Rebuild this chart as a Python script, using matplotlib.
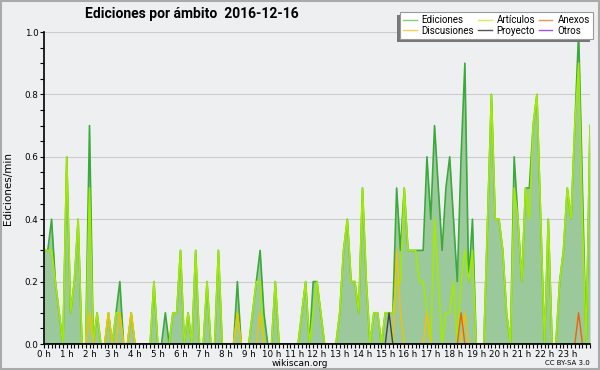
import matplotlib
matplotlib.use("Agg")
import matplotlib.pyplot as plt
import numpy as np
from matplotlib.lines import Line2D
from matplotlib.patches import Rectangle
from matplotlib.transforms import IdentityTransform

# edits per minute, one value every 10 minutes (0:00 .. 24:00)
ediciones = [
    0.3, 0.3, 0.4, 0.2, 0.1, 0.0,   # 0 h
    0.6, 0.1, 0.2, 0.4, 0.0, 0.0,   # 1 h
    0.7, 0.0, 0.1, 0.0, 0.0, 0.1,   # 2 h
    0.0, 0.1, 0.2, 0.0, 0.0, 0.1,   # 3 h
    0.0, 0.0, 0.0, 0.0, 0.0, 0.2,   # 4 h
    0.0, 0.0, 0.1, 0.0, 0.1, 0.1,   # 5 h
    0.3, 0.0, 0.1, 0.0, 0.3, 0.0,   # 6 h
    0.0, 0.2, 0.0, 0.0, 0.3, 0.0,   # 7 h
    0.0, 0.0, 0.0, 0.2, 0.0, 0.0,   # 8 h
    0.0, 0.1, 0.2, 0.3, 0.1, 0.0,   # 9 h
    0.0, 0.2, 0.0, 0.0, 0.0, 0.0,   # 10 h
    0.0, 0.0, 0.1, 0.2, 0.0, 0.2,   # 11 h
    0.2, 0.1, 0.0, 0.0, 0.0, 0.0,   # 12 h
    0.1, 0.3, 0.4, 0.2, 0.2, 0.1,   # 13 h
    0.5, 0.2, 0.0, 0.1, 0.1, 0.0,   # 14 h
    0.1, 0.1, 0.1, 0.5, 0.3, 0.5,   # 15 h
    0.3, 0.3, 0.3, 0.3, 0.3, 0.6,   # 16 h
    0.4, 0.7, 0.5, 0.3, 0.5, 0.6,   # 17 h
    0.4, 0.2, 0.6, 0.9, 0.2, 0.4,   # 18 h
    0.0, 0.0, 0.0, 0.4, 0.8, 0.4,   # 19 h
    0.4, 0.3, 0.1, 0.0, 0.6, 0.4,   # 20 h
    0.2, 0.5, 0.5, 0.7, 0.8, 0.4,   # 21 h
    0.0, 0.4, 0.0, 0.0, 0.2, 0.3,   # 22 h
    0.5, 0.4, 0.7, 1.0, 0.5, 0.0,   # 23 h
    0.7,
]

articulos = [
    0.3, 0.3, 0.3, 0.2, 0.1, 0.0,
    0.6, 0.1, 0.2, 0.4, 0.0, 0.0,
    0.5, 0.0, 0.1, 0.0, 0.0, 0.1,
    0.0, 0.1, 0.1, 0.0, 0.0, 0.1,
    0.0, 0.0, 0.0, 0.0, 0.0, 0.2,
    0.0, 0.0, 0.0, 0.0, 0.1, 0.1,
    0.3, 0.0, 0.1, 0.0, 0.3, 0.0,
    0.0, 0.2, 0.0, 0.0, 0.3, 0.0,
    0.0, 0.0, 0.0, 0.1, 0.0, 0.0,
    0.0, 0.1, 0.2, 0.2, 0.0, 0.0,
    0.0, 0.2, 0.0, 0.0, 0.0, 0.0,
    0.0, 0.0, 0.1, 0.2, 0.0, 0.1,
    0.2, 0.1, 0.0, 0.0, 0.0, 0.0,
    0.1, 0.3, 0.4, 0.2, 0.2, 0.1,
    0.5, 0.2, 0.0, 0.1, 0.1, 0.0,
    0.1, 0.1, 0.1, 0.2, 0.2, 0.5,
    0.3, 0.3, 0.3, 0.2, 0.2, 0.1,
    0.0, 0.4, 0.2, 0.0, 0.1, 0.1,
    0.2, 0.0, 0.2, 0.3, 0.2, 0.3,
    0.0, 0.0, 0.0, 0.4, 0.8, 0.4,
    0.4, 0.3, 0.1, 0.0, 0.5, 0.4,
    0.2, 0.5, 0.4, 0.7, 0.8, 0.4,
    0.0, 0.4, 0.0, 0.0, 0.2, 0.3,
    0.5, 0.4, 0.7, 0.9, 0.4, 0.0,
    0.7,
]

discusiones = [0.0] * 145
for i, v in [(12, 0.1), (17, 0.1), (20, 0.1), (23, 0.1), (51, 0.1), (57, 0.1),
             (93, 0.3), (94, 0.1), (101, 0.1), (111, 0.1)]:
    discusiones[i] = v

anexos = [0.0] * 145
anexos[110] = 0.1
anexos[141] = 0.1

proyecto = [0.0] * 145
proyecto[91] = 0.1

otros = [0.0] * 145

hours = np.arange(len(ediciones)) / 6
hour_labels = [f"{h} h" for h in range(24)]

bg = "#eeeff1"
fig = plt.figure(figsize=(6, 3.7), dpi=100, facecolor=bg)
ax = fig.add_axes([44/600, 1-344/370, 546/600, 312/370], facecolor=bg)

ax.fill_between(hours, ediciones, color="#9cc99c", lw=0, zorder=2)
ax.plot(hours, ediciones, color="#3aaa3a", lw=1.2, zorder=3)
ax.plot(hours, articulos, color="#a2ea00", lw=1.2, zorder=4)
ax.plot(hours, discusiones, color="#f2c200", lw=1.0, zorder=5)
ax.plot(hours, anexos, color="#f06010", lw=1.0, zorder=5)
ax.plot(hours, proyecto, color="#444444", lw=1.0, zorder=5)
ax.plot(hours, otros, color="#9933ff", lw=1.0, zorder=5)

ax.set_xlim(0, 24)
ax.set_ylim(0, 1.0)
ax.set_xticks(range(24))
ax.set_xticklabels(hour_labels)
ax.set_xticks(np.arange(0, 24.01, 1/6), minor=True)
ax.set_yticks(np.arange(0, 1.01, 0.2))
ax.set_yticklabels([f"{v:.1f}" for v in np.arange(0, 1.01, 0.2)])
ax.set_yticks(np.arange(0, 1.01, 0.05), minor=True)
ax.tick_params(which="both", direction="out", length=3, width=0.8, color="black",
               labelsize=6.3, pad=1)
ax.grid(axis="y", which="major", color="#cccccc", lw=0.8, zorder=1)
for s in ["top", "right"]:
    ax.spines[s].set_visible(False)
for s in ["left", "bottom"]:
    ax.spines[s].set_linewidth(1.2)
    ax.spines[s].set_zorder(10)

ax.set_ylabel("Ediciones/min", fontsize=7.5, labelpad=8)

fig.text(85/600, 1-14/370, "Ediciones por ámbito  2016-12-16", fontsize=10,
         fontweight="bold", family="Roboto", ha="left", va="center")
fig.text(300/600, 1-363/370, "wikiscan.org", fontsize=6.5, ha="center", va="center")
fig.text(590/600, 1-363/370, "CC BY-SA 3.0", fontsize=5, ha="right", va="center")

handles = [
    Line2D([], [], color="#80d080", lw=1),
    Line2D([], [], color="#f8d050", lw=1),
    Line2D([], [], color="#d0f060", lw=1),
    Line2D([], [], color="#555555", lw=1),
    Line2D([], [], color="#f09060", lw=1),
    Line2D([], [], color="#a050f0", lw=1),
]
labels = ["Ediciones", "Discusiones", "Artículos", "Proyecto", "Anexos", "Otros"]
leg = fig.legend(handles, labels, loc="upper right", ncol=3,
                 bbox_to_anchor=(593/600, 1-12/370), bbox_transform=fig.transFigure,
                 prop={"family": "Roboto", "size": 7}, frameon=True, fancybox=False,
                 edgecolor="#999999", facecolor="white", framealpha=1, borderpad=0.35,
                 labelspacing=0.05, handlelength=1.4, handletextpad=0.5,
                 columnspacing=0.4, borderaxespad=0)
leg.get_frame().set_linewidth(0.8)
leg.set_zorder(20)

fig.canvas.draw()
bb = leg.get_window_extent()
fig.patches.append(Rectangle((bb.x0 - 3, bb.y0 - 3), bb.width, bb.height,
                             transform=IdentityTransform(), facecolor="#777777",
                             lw=0, zorder=15, figure=fig))
fig.patches.append(Rectangle((0.002, 0.003), 0.996, 0.994, transform=fig.transFigure,
                             fill=False, edgecolor="#aaaaaa", lw=1.5, figure=fig))

fig.savefig("out.png", dpi=100, facecolor=bg)
